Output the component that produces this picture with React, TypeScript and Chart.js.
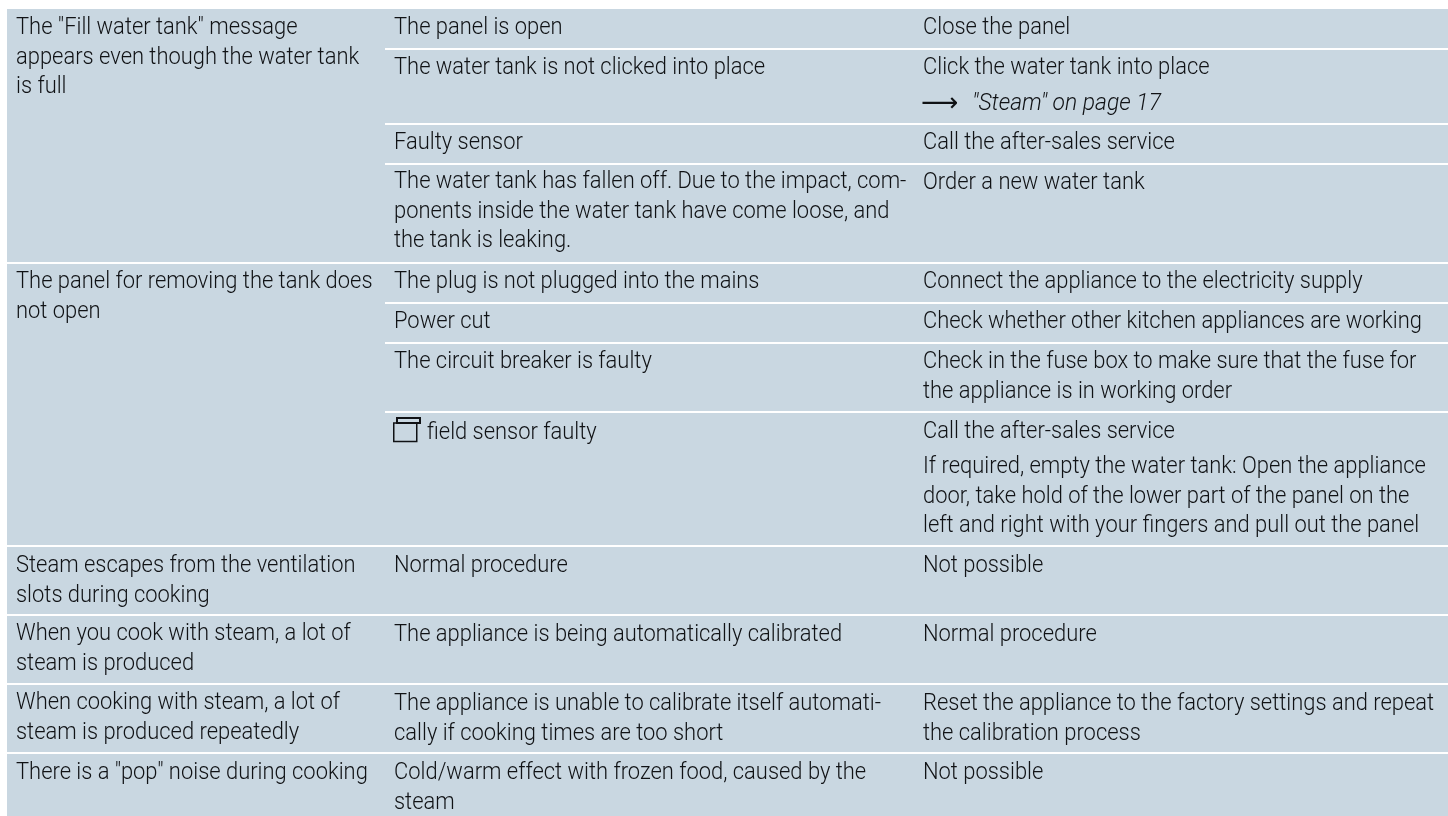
import React, { useEffect, useRef } from "react";
import { Chart, registerables } from "chart.js";

Chart.register(...registerables);

const symptoms: string[][] = [
  ['The "Fill water tank" message', "appears even though the water tank", "is full"],
  ["The panel for removing the tank does", "not open"],
  ["Steam escapes from the ventilation", "slots during cooking"],
  ["When you cook with steam, a lot of", "steam is produced"],
  ["When cooking with steam, a lot of", "steam is produced repeatedly"],
  ['There is a "pop" noise during cooking'],
];
const causes: string[][] = [
  ["The panel is open"],
  ["The water tank is not clicked into place"],
  ["Faulty sensor"],
  ["The water tank has fallen off. Due to the impact, com-", "ponents inside the water tank have come loose, and", "the tank is leaking."],
  ["The plug is not plugged into the mains"],
  ["Power cut"],
  ["The circuit breaker is faulty"],
  ["field sensor faulty"],
  ["Normal procedure"],
  ["The appliance is being automatically calibrated"],
  ["The appliance is unable to calibrate itself automati-", "cally if cooking times are too short"],
  ["Cold/warm effect with frozen food, caused by the", "steam"],
];
const remedies: string[][] = [
  ["Close the panel"],
  ["Click the water tank into place"],
  ["Call the after-sales service"],
  ["Order a new water tank"],
  ["Connect the appliance to the electricity supply"],
  ["Check whether other kitchen appliances are working"],
  ["Check in the fuse box to make sure that the fuse for", "the appliance is in working order"],
  ["Call the after-sales service"],
  ["Not possible"],
  ["Normal procedure"],
  ["Reset the appliance to the factory settings and repeat", "the calibration process"],
  ["Not possible"],
];
const crossReference = '"Steam" on page 17';
const arrowGlyph = "\u27F6";
const panelNote = [
  "If required, empty the water tank: Open the appliance",
  "door, take hold of the lower part of the panel on the",
  "left and right with your fingers and pull out the panel",
];

const symptomBaselines = [34, 288, 572, 640, 709, 779];
const causeBaselines = [34, 74, 149, 188, 288, 328, 368, 439, 572, 641, 710, 779];
const remedyBaselines = [34, 74, 149, 189, 288, 328, 368, 438, 572, 641, 710, 779];
const rowRules = [263, 546, 615, 684, 753];
const subRules = [49, 124, 164, 303, 343, 412];

const BG = "#c9d7e1";
const INK = "#101215";
const FONT = 'Roboto, "Liberation Sans", sans-serif';
const SIZE = 24.5;
const LINE = 29.7;

const tablePlugin = {
  id: "tableText",
  afterDatasetsDraw(chart: any) {
    const { ctx, scales } = chart;
    const X = (v: number) => scales.x.getPixelForValue(v);
    const Y = (v: number) => scales.y.getPixelForValue(v);
    ctx.save();
    ctx.fillStyle = INK;
    ctx.textBaseline = "alphabetic";
    ctx.textAlign = "left";
    ctx.font = `300 ${SIZE}px ${FONT}`;
    const sx = 499 / ctx.measureText("Check whether other kitchen appliances are working").width;
    const put = (t: string, x: number, y: number, k = sx) => {
      ctx.save();
      ctx.translate(X(x), Y(y));
      ctx.scale(k, 1);
      ctx.fillText(t, 0, 0);
      ctx.restore();
    };
    const column = (x: number, cells: string[][], bases: number[], skip = -1) =>
      cells.forEach((lines, i) =>
        lines.forEach((t, j) => put(t, i === skip ? x + 33 : x, bases[i] + j * LINE))
      );
    column(16, symptoms, symptomBaselines);
    column(394, causes, causeBaselines, 7);
    column(923, remedies, remedyBaselines);
    panelNote.forEach((t, j) => put(t, 923, 473 + j * LINE));
    ctx.font = `italic 300 ${SIZE}px ${FONT}`;
    put(crossReference, 972, 110, 189 / ctx.measureText(crossReference).width);
    ctx.font = `26px "DejaVu Sans", sans-serif`;
    ctx.fillText(arrowGlyph, X(921), Y(111));
    // panel symbol beside "field sensor faulty"
    ctx.strokeStyle = INK;
    ctx.lineWidth = 1.5;
    ctx.strokeRect(X(393.75), Y(423), 23, 18.5);
    ctx.fillStyle = BG;
    ctx.fillRect(X(396), Y(417), 25, 6.5);
    ctx.lineWidth = 2;
    ctx.strokeRect(X(397), Y(418), 23, 5);
    ctx.restore();
  },
};

export default function App() {
  const ref = useRef<HTMLCanvasElement>(null);
  useEffect(() => {
    const rule = (y: number, from: number) => ({
      data: [{ x: from, y }, { x: 1448, y }],
      borderColor: "#ffffff",
      borderWidth: 2,
      pointRadius: 0,
      fill: false,
    });
    const chart = new Chart(ref.current!, {
      type: "line",
      data: {
        datasets: [
          ...rowRules.map((y) => rule(y, 7)),
          ...subRules.map((y) => rule(y, 385)),
          {
            data: [{ x: 7, y: 9 }, { x: 1448, y: 9 }],
            borderWidth: 0,
            pointRadius: 0,
            backgroundColor: BG,
            fill: { value: 816 },
          },
        ] as any,
      },
      options: {
        animation: false,
        responsive: false,
        layout: { padding: 0 },
        parsing: false,
        plugins: { legend: { display: false }, tooltip: { enabled: false }, title: { display: false } },
        scales: {
          x: { type: "linear", min: 0, max: 1448, display: false },
          y: { type: "linear", min: 0, max: 816, reverse: true, display: false },
        },
      },
      plugins: [tablePlugin],
    } as any);
    return () => chart.destroy();
  }, []);
  return (
    <canvas
      ref={ref}
      width={1448}
      height={816}
      style={{ position: "fixed", left: 0, top: 0, width: 1448, height: 816, display: "block" }}
    />
  );
}
